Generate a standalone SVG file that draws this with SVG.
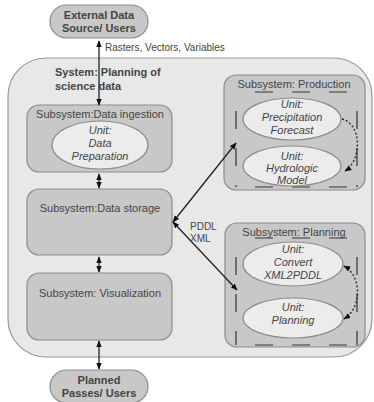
<svg xmlns="http://www.w3.org/2000/svg" width="374" height="402" viewBox="0 0 374 402">
<defs>
<style>
text{font-family:"Liberation Sans",Arial,sans-serif;fill:#444;}
.t{font-size:11px;}
.b{font-size:11px;font-weight:bold;}
.u{font-size:11px;font-style:italic;text-anchor:middle;}
.c{text-anchor:middle;}
.sub{fill:#c8c8c8;stroke:#8c8c8c;stroke-width:1.2;}
.ell{fill:#ececec;stroke:#8c8c8c;stroke-width:1.2;}
.dash{fill:none;stroke:#333;stroke-width:1.2;stroke-dasharray:18 19;stroke-dashoffset:18;}
.ln{fill:none;stroke:#222;stroke-width:1.3;}
.dot{fill:none;stroke:#222;stroke-width:1.3;stroke-dasharray:2 2;}
</style>
<marker id="ah" viewBox="0 0 10 10" refX="9" refY="5" markerWidth="7" markerHeight="7" orient="auto-start-reverse" markerUnits="userSpaceOnUse">
<path d="M0,1 L10,5 L0,9 z" fill="#111"/>
</marker>
</defs>
<rect width="374" height="402" fill="#fff"/>

<g id="system">
<rect x="8" y="58" width="364" height="299" rx="38" fill="#e8e8e8" stroke="#999" stroke-width="1.2"/>
<text class="b" x="55" y="76">System: Planning of</text>
<text class="b" x="55" y="90">science data</text>
</g>

<g id="external">
<rect x="50" y="5" width="98" height="33" rx="16.5" fill="#c8c8c8" stroke="#8c8c8c" stroke-width="1.2"/>
<text class="b c" x="99" y="19">External Data</text>
<text class="b c" x="99" y="32">Source/ Users</text>
</g>

<g id="planned">
<rect x="50" y="370" width="98" height="33" rx="16.5" fill="#c8c8c8" stroke="#8c8c8c" stroke-width="1.2"/>
<text class="b c" x="99" y="384">Planned</text>
<text class="b c" x="99" y="397">Passes/ Users</text>
</g>

<g id="ingestion">
<rect class="sub" x="27" y="105" width="145" height="67" rx="12"/>
<text class="t c" x="100" y="118">Subsystem:Data ingestion</text>
<ellipse class="ell" cx="100" cy="145" rx="48" ry="24"/>
<text class="u" x="100" y="134">Unit:</text>
<text class="u" x="100" y="147">Data</text>
<text class="u" x="100" y="160">Preparation</text>
</g>

<g id="storage">
<rect class="sub" x="27" y="189" width="145" height="66" rx="12"/>
<text class="t c" x="100" y="212">Subsystem:Data storage</text>
</g>

<g id="visualization">
<rect class="sub" x="27" y="273" width="145" height="67" rx="12"/>
<text class="t c" x="100" y="297">Subsystem: Visualization</text>
</g>

<g id="production">
<rect class="sub" x="224" y="75" width="141" height="115" rx="12"/>
<text class="t c" x="294" y="88">Subsystem: Production</text>
<path class="dash" d="M236,92 H357 M236,187 H357 M236,92 V187 M357,92 V187"/>
<ellipse class="ell" cx="292" cy="119" rx="49" ry="21"/>
<text class="u" x="292" y="108">Unit:</text>
<text class="u" x="292" y="121">Precipitation</text>
<text class="u" x="292" y="134">Forecast</text>
<ellipse class="ell" cx="292" cy="166" rx="49" ry="20"/>
<text class="u" x="292" y="160">Unit:</text>
<text class="u" x="292" y="172">Hydrologic</text>
<text class="u" x="292" y="184">Model</text>
</g>

<g id="planning">
<rect class="sub" x="225" y="223" width="140" height="124" rx="12"/>
<text class="t c" x="294" y="236">Subsystem: Planning</text>
<path class="dash" d="M236,238 H357 M236,345 H357 M236,238 V345 M357,238 V345"/>
<ellipse class="ell" cx="293" cy="264" rx="50" ry="22"/>
<text class="u" x="293" y="253">Unit:</text>
<text class="u" x="293" y="266">Convert</text>
<text class="u" x="293" y="279">XML2PDDL</text>
<ellipse class="ell" cx="293" cy="318" rx="50" ry="20"/>
<text class="u" x="293" y="311">Unit:</text>
<text class="u" x="293" y="324">Planning</text>
</g>

<g id="connectors">
<line class="ln" x1="99" y1="41" x2="99" y2="105" marker-start="url(#ah)" marker-end="url(#ah)"/>
<text class="t" x="105" y="51" style="font-size:10px">Rasters, Vectors, Variables</text>
<line class="ln" x1="99" y1="174" x2="99" y2="188" marker-start="url(#ah)" marker-end="url(#ah)"/>
<line class="ln" x1="99" y1="257" x2="99" y2="272" marker-start="url(#ah)" marker-end="url(#ah)"/>
<line class="ln" x1="99" y1="341" x2="99" y2="369" marker-start="url(#ah)" marker-end="url(#ah)"/>
<line class="ln" x1="173" y1="222" x2="236" y2="143" marker-start="url(#ah)" marker-end="url(#ah)"/>
<line class="ln" x1="173" y1="222" x2="237" y2="290" marker-start="url(#ah)" marker-end="url(#ah)"/>
<text class="t" x="190" y="230" style="font-size:10px">PDDL</text>
<text class="t" x="190" y="242" style="font-size:10px">XML</text>
<path class="dot" d="M342,119 C362,124 362,160 345,171" marker-end="url(#ah)"/>
<path class="dot" d="M344,266 C362,276 362,308 344,319" marker-start="url(#ah)" marker-end="url(#ah)"/>
</g>
</svg>
